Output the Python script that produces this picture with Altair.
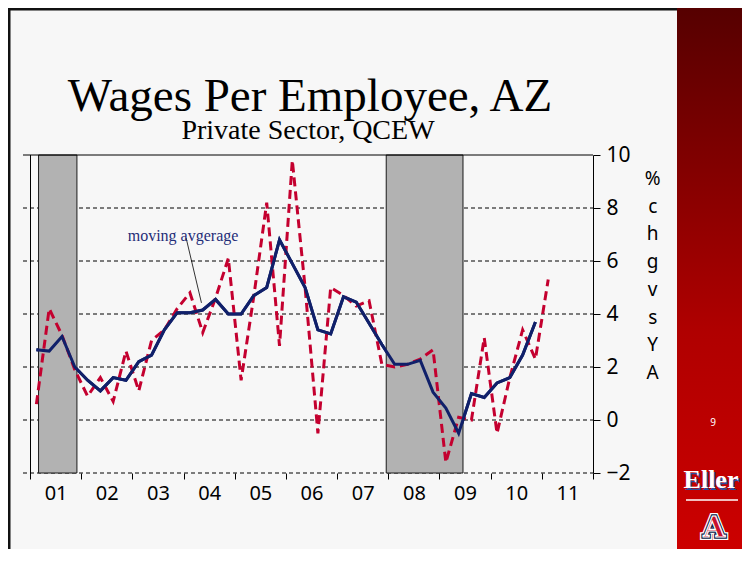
import altair as alt
import pandas as pd

# ---------------- data ----------------
quarters = [2001 + (i + 0.5) / 4 for i in range(44)]  # quarter mid-points 2001Q1..2011Q4
yoy = [0.6, 4.2, 3.2, 1.9, 0.9, 1.6, 0.7, 2.6, 1.1, 3.0, 3.4, 4.2, 4.8, 3.3, 4.6, 6.1,
       1.5, 4.7, 8.2, 2.8, 9.8, 5.0, -0.5, 5.0, 4.7, 4.3, 4.5, 2.1, 2.0, 2.1, 2.3, 2.65,
       -1.6, 0.1, 0.0, 3.1, -0.5, 1.6, 3.4, 2.3, 5.3]
mov_avg = [2.65, 2.6, 3.15, 2.0, 1.5, 1.1, 1.6, 1.5, 2.2, 2.45, 3.4, 4.05, 4.05, 4.15, 4.55, 4.0,
           4.0, 4.7, 5.0, 6.8, 5.9, 5.0, 3.4, 3.25, 4.65, 4.45, 3.65, 2.85, 2.1, 2.1, 2.25, 1.05,
           0.45, -0.5, 1.0, 0.85, 1.4, 1.6, 2.45, 3.7]
rec_start = [2001.167, 2007.96]
rec_end = [2001.917, 2009.46]
year_ticks = list(range(2001, 2013))
year_labels = ["01", "02", "03", "04", "05", "06", "07", "08", "09", "10", "11", ""]
y_ticks = [-2, 0, 2, 4, 6, 8, 10]
y_label_lines = ["%", "", "c", "h", "g", "", "v", "s", "", "Y", "A"]
annot_x = [2004.05]
annot_y = [6.87]
annot_x2 = [2004.35]
annot_y2 = [4.42]
annot_text = ["moving avgerage"]
annot_tx = [2003.99]
annot_ty = [6.75]

title = "Wages Per Employee, AZ"
subtitle = "Private Sector, QCEW"

W, H = 563, 318
PT, PL = 147, 22
TOTAL_W, TOTAL_H = 734, 541
BOT = TOTAL_H - PT          # bottom of svg in view coordinates
RIGHT = TOTAL_W - PL        # right edge of svg in view coordinates
xs = alt.Scale(domain=[2001, 2012], nice=False, zero=False)
ys = alt.Scale(domain=[-2, 10], nice=False, zero=False)

red_df = pd.DataFrame({"t": quarters[:len(yoy)], "v": yoy})
blue_df = pd.DataFrame({"t": quarters[:len(mov_avg)], "v": mov_avg})
rec_df = pd.DataFrame({"s": rec_start, "e": rec_end})
grid_df = pd.DataFrame({"v": [v for v in y_ticks if v != 10]})
top_df = pd.DataFrame({"v": [10]})
ann_df = pd.DataFrame({"x": annot_x, "y": annot_y, "x2": annot_x2, "y2": annot_y2})
ann_t_df = pd.DataFrame({"x": annot_tx, "y": annot_ty, "txt": annot_text})
one = pd.DataFrame({"k": [0]})

SERIF = "Liberation Serif"
SANS = "Noto Sans"


def X(f):
    return alt.X(f, scale=xs, title=None)


def Y(f):
    return alt.Y(f, scale=ys, title=None)


# ---------------- slide decorations ----------------
band = alt.Chart(one).mark_rect(
    fill=alt.Gradient(
        gradient="linear",
        stops=[alt.GradientStop(color="#560000", offset=0),
               alt.GradientStop(color="#b00000", offset=0.6),
               alt.GradientStop(color="#cc0000", offset=1)],
        x1=0, x2=0, y1=0, y2=1)
).encode(x=alt.value(647), x2=alt.value(RIGHT), y=alt.value(-PT), y2=alt.value(BOT))

border_left = alt.Chart(one).mark_rect(color="#111111").encode(
    x=alt.value(-PL), x2=alt.value(-PL + 2.5), y=alt.value(-PT), y2=alt.value(BOT))
border_top = alt.Chart(one).mark_rect(color="#111111").encode(
    x=alt.value(-PL), x2=alt.value(647), y=alt.value(-PT), y2=alt.value(-PT + 2.4))

title_t = alt.Chart(one).mark_text(
    text=title, font=SERIF, fontSize=47, color="#000000", align="center", baseline="alphabetic"
).encode(x=alt.value(280), y=alt.value(-44.3))
subtitle_t = alt.Chart(one).mark_text(
    text=subtitle, font=SERIF, fontSize=28, color="#000000", align="center", baseline="alphabetic"
).encode(x=alt.value(278), y=alt.value(-16))

ytitle_t = alt.Chart(one).mark_text(
    text=y_label_lines, font=SANS, fontSize=19, color="#000000", align="center",
    baseline="alphabetic", lineHeight=27.7
).encode(x=alt.value(622.7), y=alt.value(30))

page_t = alt.Chart(one).mark_text(
    text="9", font=SANS, fontSize=10, color="#ffffff", align="center", baseline="middle"
).encode(x=alt.value(683), y=alt.value(268))

eller_shadow = alt.Chart(one).mark_text(
    text="Eller", font=SERIF, fontSize=26, fontWeight="bold", color="#2d4c9c",
    align="center", baseline="alphabetic"
).encode(x=alt.value(682.5), y=alt.value(334.5))
eller_t = alt.Chart(one).mark_text(
    text="Eller", font=SERIF, fontSize=26, fontWeight="bold", color="#ffffff",
    align="center", baseline="alphabetic"
).encode(x=alt.value(681), y=alt.value(333))
eller_line = alt.Chart(one).mark_rule(color="#ffffff", strokeWidth=1.5).encode(
    x=alt.value(656), x2=alt.value(708), y=alt.value(345))

LOGO_X, LOGO_Y, LOGO_FS = 684, 382, 28
logo_outer = alt.Chart(one).mark_text(
    text="A", font="DejaVu Serif", fontSize=LOGO_FS, fontWeight="bold", color="#0c234b",
    stroke="#ffffff", strokeWidth=6, align="center", baseline="alphabetic"
).encode(x=alt.value(LOGO_X), y=alt.value(LOGO_Y))
logo_blue = alt.Chart(one).mark_text(
    text="A", font="DejaVu Serif", fontSize=LOGO_FS, fontWeight="bold", color="#0c234b",
    stroke="#0c234b", strokeWidth=3.5, align="center", baseline="alphabetic"
).encode(x=alt.value(LOGO_X), y=alt.value(LOGO_Y))
logo_red = alt.Chart(one).mark_text(
    text="A", font="DejaVu Serif", fontSize=LOGO_FS, fontWeight="bold", color="#c8102e",
    stroke="#ffffff", strokeWidth=1.2, align="center", baseline="alphabetic"
).encode(x=alt.value(LOGO_X), y=alt.value(LOGO_Y))

# ---------------- plot frame ----------------
grid = alt.Chart(grid_df).mark_rule(color="#000000", strokeWidth=1, strokeDash=[4, 3]).encode(
    y=Y("v:Q"), x=alt.value(-7), x2=alt.value(W))
top_line = alt.Chart(top_df).mark_rule(color="#000000", strokeWidth=1).encode(
    y=Y("v:Q"), x=alt.value(-7), x2=alt.value(W))
left_line = alt.Chart(one).mark_rule(color="#000000", strokeWidth=1).encode(
    x=alt.value(0.5), y=alt.value(0), y2=alt.value(H + 6))

bands = alt.Chart(rec_df).mark_rect(fill="#b2b2b2", stroke="#1a1a1a", strokeWidth=1).encode(
    x=X("s:Q"), x2="e:Q", y=alt.value(0), y2=alt.value(H))

red = alt.Chart(red_df).mark_line(color="#c4002f", strokeWidth=3, strokeDash=[9, 5]).encode(
    x=X("t:Q"), y=Y("v:Q"))

label_array = "[" + ",".join("'" + s + "'" for s in year_labels) + "]"
blue = alt.Chart(blue_df).mark_line(color="#10206a", strokeWidth=3).encode(
    x=alt.X("t:Q", scale=xs, title=None, axis=alt.Axis(
        values=year_ticks, labelExpr=label_array + "[datum.value - 2001]",
        grid=False, domain=False, ticks=True, tickSize=6, tickColor="#000000",
        labelFont=SANS, labelFontSize=20, labelColor="#000000", labelPadding=4,
        labelOffset=25.6, labelOverlap=False, labelFlush=False, labelBound=False)),
    y=alt.Y("v:Q", scale=ys, title=None, axis=alt.Axis(
        orient="right", values=y_ticks, grid=False, domain=True,
        domainColor="#000000", tickColor="#000000", tickSize=7, labelFont=SANS,
        labelFontSize=21, labelColor="#000000", labelPadding=6, labelOverlap=False,
        labelFlush=False)))

ann_line = alt.Chart(ann_df).mark_rule(color="#000000", strokeWidth=0.8).encode(
    x=X("x:Q"), y=Y("y:Q"), x2="x2:Q", y2="y2:Q")
ann_text = alt.Chart(ann_t_df).mark_text(
    font=SERIF, fontSize=16, color="#1f2d78", align="center", baseline="alphabetic"
).encode(x=X("x:Q"), y=Y("y:Q"), text="txt:N")

chart = alt.layer(
    blue, band, border_left, border_top, title_t, subtitle_t, ytitle_t, page_t,
    eller_shadow, eller_t, eller_line, logo_outer, logo_blue, logo_red,
    grid, bands, top_line, left_line, red, ann_line, ann_text,
    blue.mark_line(color="#10206a", strokeWidth=3)
).properties(
    width=W, height=H,
    padding={"left": PL, "top": PT, "right": TOTAL_W - PL - W, "bottom": TOTAL_H - PT - H},
    autosize=alt.AutoSizeParams(type="none"),
).configure(background="#f7f7f7").configure_view(stroke=None)

chart.save("out.html", embed_options={"renderer": "svg", "actions": False})
